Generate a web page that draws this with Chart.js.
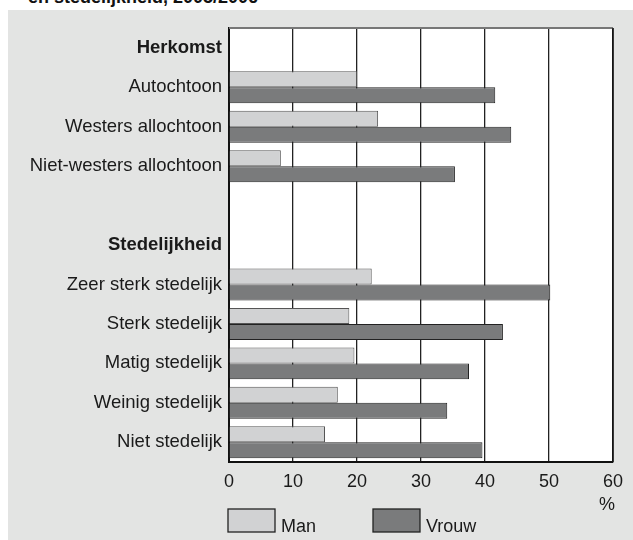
<!DOCTYPE html>
<html lang="nl">
<head>
<meta charset="UTF-8">
<title>Herkomst en stedelijkheid, 2005/2006</title>
<style>
  html, body { margin: 0; padding: 0; background: #fff; overflow: hidden; }
  body { width: 633px; height: 540px; position: relative; font-family: "Liberation Sans", Arial, Helvetica, sans-serif; }
  #titel { position: absolute; left: 28px; top: -12px; font-size: 18px; font-weight: bold; line-height: 18px; color: #111; white-space: nowrap; }
  #paneel { position: absolute; left: 8px; top: 10px; width: 625px; height: 530px; background: #e3e4e3; }
</style>
</head>
<body>
<div id="titel">en stedelijkheid, 2005/2006</div>
<div id="paneel"><canvas id="chart" width="625" height="530"></canvas></div>
<script src="https://cdn.jsdelivr.net/npm/chart.js"></script>
<script>
// gegevens
const categorieen = ['Herkomst', 'Autochtoon', 'Westers allochtoon', 'Niet-westers allochtoon', '',
  'Stedelijkheid', 'Zeer sterk stedelijk', 'Sterk stedelijk', 'Matig stedelijk', 'Weinig stedelijk', 'Niet stedelijk'];
const kopjes = ['Herkomst', 'Stedelijkheid'];
const man   = [null, 20.0, 23.3, 8.1, null, null, 22.3, 18.8, 19.6, 17.0, 15.0];
const vrouw = [null, 41.6, 44.1, 35.3, null, null, 50.2, 42.8, 37.5, 34.1, 39.6];
const xTicks = [0, 10, 20, 30, 40, 50, 60];

const lettertype = '"Liberation Sans", Arial, Helvetica, sans-serif';

// witte plotvlak, kader, legenda en "%"
const extra = {
  id: 'extra',
  beforeDraw(chart) {
    const a = chart.chartArea, c = chart.ctx;
    c.save();
    c.fillStyle = '#fff';
    c.fillRect(a.left, a.top, a.right - a.left, a.bottom - a.top);
    c.restore();
  },
  afterDraw(chart) {
    const a = chart.chartArea, c = chart.ctx;
    c.save();
    c.strokeStyle = '#777';
    c.lineWidth = 2;
    c.beginPath(); c.moveTo(a.left, a.top); c.lineTo(a.right, a.top); c.stroke();
    c.strokeStyle = '#111';
    c.lineWidth = 1.5;
    c.beginPath(); c.moveTo(a.right, a.top); c.lineTo(a.right, a.bottom); c.stroke();

    c.font = '18px ' + lettertype;
    c.fillStyle = '#1a1a1a';
    c.textAlign = 'center';
    c.textBaseline = 'middle';
    c.fillText('%', 599, 495);

    // legenda
    const items = [[220, chart.data.datasets[0]], [365, chart.data.datasets[1]]];
    c.textAlign = 'left';
    c.textBaseline = 'alphabetic';
    items.forEach(([x, ds]) => {
      c.fillStyle = ds.backgroundColor;
      c.fillRect(x, 499, 47, 23);
      c.strokeStyle = '#222';
      c.lineWidth = 1.3;
      c.strokeRect(x, 499, 47, 23);
      c.fillStyle = '#1a1a1a';
      c.fillText(ds.label, x + 53, 522);
    });
    c.restore();
  }
};

new Chart(document.getElementById('chart').getContext('2d'), {
  type: 'bar',
  data: {
    labels: categorieen,
    datasets: [
      { label: 'Man', data: man, backgroundColor: '#d1d2d3', borderColor: '#555', borderWidth: 1 },
      { label: 'Vrouw', data: vrouw, backgroundColor: '#7a7b7c', borderColor: '#222', borderWidth: 1 }
    ]
  },
  options: {
    indexAxis: 'y',
    responsive: false,
    animation: false,
    layout: { padding: { top: 16, right: 20, left: 0, bottom: 0 } },
    datasets: { bar: { categoryPercentage: 0.81, barPercentage: 1.0, borderSkipped: 'start' } },
    plugins: { legend: { display: false }, tooltip: { enabled: false } },
    scales: {
      x: {
        min: 0, max: 60,
        afterBuildTicks: s => { s.ticks = xTicks.map(v => ({ value: v })); },
        afterFit: s => { s.height = 78; },
        grid: { color: '#222', lineWidth: 1.3, drawTicks: false },
        border: { color: '#111', width: 2 },
        ticks: { padding: 9, color: '#1a1a1a', font: { size: 18, family: lettertype } }
      },
      y: {
        afterFit: s => { s.width = 221; },
        grid: { display: false, drawTicks: false },
        border: { color: '#111', width: 2 },
        ticks: {
          padding: 7,
          color: '#1a1a1a',
          autoSkip: false,
          font: ctx => ({
            size: 18.5,
            family: lettertype,
            weight: kopjes.includes(categorieen[ctx.index]) ? 'bold' : 'normal'
          })
        }
      }
    }
  },
  plugins: [extra]
});
</script>
</body>
</html>
